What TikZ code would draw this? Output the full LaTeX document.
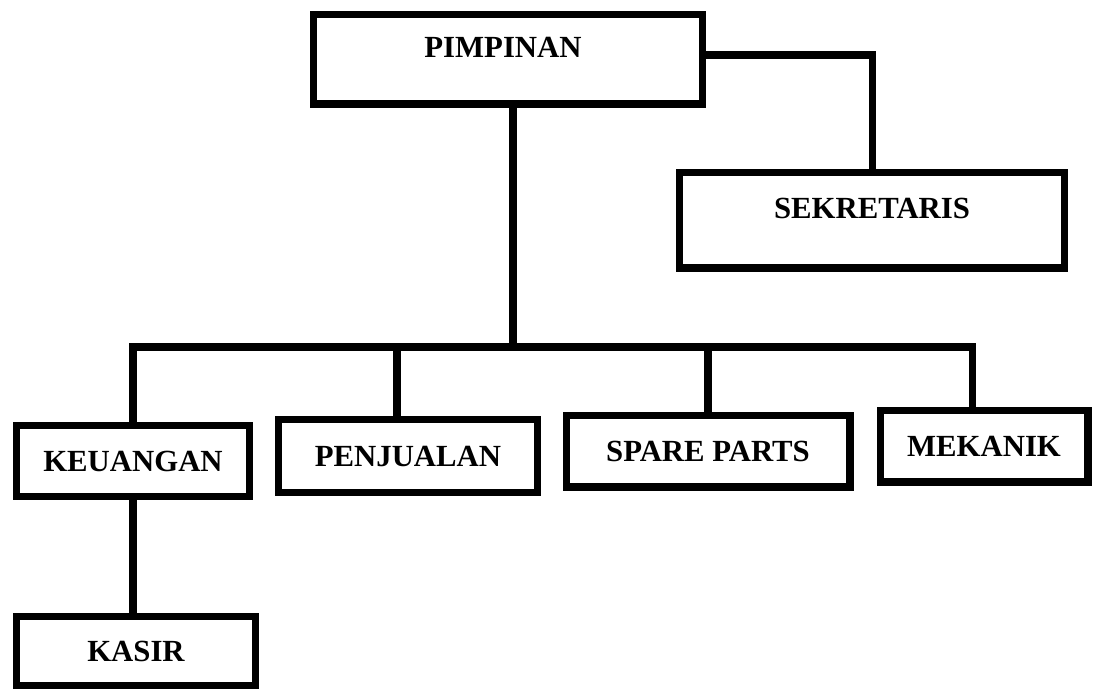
\documentclass[tikz,border=0pt]{standalone}
\usepackage{fontspec}
\setmainfont{Liberation Serif}
\usepackage{tikz}
\usetikzlibrary{calc}

\tikzset{
  unit/.style={draw, line width=4pt, rectangle, inner sep=0pt,
    font=\fontsize{17.5}{20}\selectfont\bfseries},
  link/.style={line width=4pt, line cap=rect}
}

\begin{document}
\begin{tikzpicture}[x=0.02cm, y=-0.02cm]

  \useasboundingbox (0,0) rectangle (1094,691);

  \node[unit, minimum width=7.8cm, minimum height=1.8cm,
    label={[name=pimpinantxt, xshift=-0.1cm, yshift=0.24cm, font=\fontsize{17.5}{20}\selectfont\bfseries]center:PIMPINAN}]
    (pimpinan) at (508,59) {};
  \node[unit, minimum width=7.7cm, minimum height=1.92cm,
    label={[name=sekretaristxt, yshift=0.24cm, font=\fontsize{17.5}{20}\selectfont\bfseries]center:SEKRETARIS}]
    (sekretaris) at (872,220) {};

  \node[unit, minimum width=4.66cm, minimum height=1.42cm] (keuangan) at (133,461) {KEUANGAN};
  \node[unit, minimum width=5.2cm, minimum height=1.46cm] (penjualan) at (408,456) {PENJUALAN};
  \node[unit, minimum width=5.68cm, minimum height=1.44cm] (spare) at (708,451) {SPARE PARTS};
  \node[unit, minimum width=4.16cm, minimum height=1.44cm] (mekanik) at (984,446) {MEKANIK};
  \node[unit, minimum width=4.78cm, minimum height=1.38cm] (kasir) at (136,651) {KASIR};

  \coordinate (hub) at (513,347);

  \draw[link] ([yshift=0.08cm]pimpinan.east) -| (sekretaris.north);
  \draw[link] (pimpinan.south -| hub) -- (hub);
  \draw[link] (keuangan.north) |- (hub) -| ([xshift=-0.24cm]mekanik.north);
  \draw[link] ([xshift=-0.22cm]penjualan.north) -- ([xshift=-0.22cm]penjualan.north |- hub);
  \draw[link] (spare.north) -- (spare.north |- hub);
  \draw[link] (keuangan.south) -- (keuangan.south |- kasir.north);

\end{tikzpicture}
\end{document}
